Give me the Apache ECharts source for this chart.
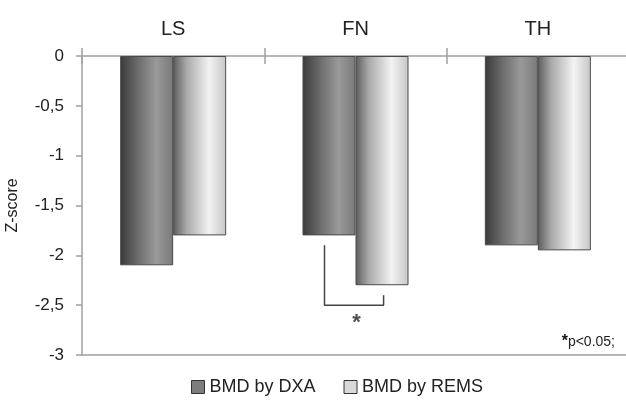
<!DOCTYPE html>
<html>
<head>
<meta charset="utf-8">
<script src="https://cdn.jsdelivr.net/npm/echarts@6/dist/echarts.min.js"></script>
<style>html,body{margin:0;padding:0;background:#fff}#c{width:626px;height:404px}</style>
</head>
<body>
<div id="c"></div>
<script>
var categories = ['LS', 'FN', 'TH'];
var seriesNames = ['BMD by DXA', 'BMD by REMS'];
var dxaValues = [-2.1, -1.8, -1.9];
var remsValues = [-1.8, -2.3, -1.95];
var yTicks = [0, -0.5, -1, -1.5, -2, -2.5, -3];
// significance bracket (category units on hidden value axis, z-score)
var bracketPoints = [[1.33, -1.9], [1.33, -2.5], [1.654, -2.5], [1.654, -2.4]];
var starPoint = [[1.505, -2.68]];

var font = 'Liberation Sans, Arial, sans-serif';
var chart = echarts.init(document.getElementById('c'), null, {renderer: 'canvas'});

function grad(stops) {
  return new echarts.graphic.LinearGradient(0, 0, 1, 0, stops.map(function (s) { return {offset: s[0], color: s[1]}; }));
}

chart.setOption({
  animation: false,
  backgroundColor: '#fff',
  grid: {left: 82, right: -3, top: 56, bottom: 49, containLabel: false, outerBoundsMode: 'none'},
  legend: {
    left: 186, bottom: 3,
    itemWidth: 13, itemHeight: 13, itemGap: 28,
    icon: 'rect',
    textStyle: {fontFamily: font, fontSize: 18, color: '#222'},
    data: [
      {name: seriesNames[0], itemStyle: {color: '#7d7d7d', borderColor: '#333', borderWidth: 1}},
      {name: seriesNames[1], itemStyle: {color: '#d9d9d9', borderColor: '#333', borderWidth: 1}}
    ]
  },
  xAxis: [
    {
      type: 'category', position: 'top', data: categories,
      axisLine: {show: true, lineStyle: {color: '#a0a0a0', width: 1.5}},
      axisTick: {show: true, alignWithLabel: false, interval: 0, length: 8, lineStyle: {color: '#a0a0a0', width: 1.5}},
      axisLabel: {fontFamily: font, fontSize: 20, color: '#222', margin: 17},
      splitLine: {show: false}
    },
    {
      type: 'category', position: 'top', data: categories,
      axisLine: {show: false},
      axisTick: {show: true, inside: true, alignWithLabel: false, interval: 0, length: 8, lineStyle: {color: '#a0a0a0', width: 1.5}},
      axisLabel: {show: false},
      splitLine: {show: false}
    },
    {
      type: 'value', position: 'bottom', min: 0, max: 3,
      axisLine: {show: true, onZero: false, lineStyle: {color: '#a0a0a0', width: 1.5}},
      axisTick: {show: false}, axisLabel: {show: false}, splitLine: {show: false}
    }
  ],
  yAxis: {
    type: 'value', min: -3, max: 0, interval: 0.5,
    name: 'Z-score', nameLocation: 'middle', nameRotate: 90, nameGap: 61,
    nameTextStyle: {fontFamily: font, fontSize: 16, color: '#222'},
    axisLine: {show: true, lineStyle: {color: '#a0a0a0', width: 1.5}},
    axisTick: {show: true, length: 6, lineStyle: {color: '#a0a0a0', width: 1.5}},
    axisLabel: {
      fontFamily: font, fontSize: 17, color: '#222', margin: 18,
      formatter: function (v) { return String(v).replace('.', ','); }
    },
    splitLine: {show: false}
  },
  series: [
    {
      name: seriesNames[0], type: 'bar', xAxisIndex: 0, data: dxaValues,
      barWidth: 53, barGap: '0%',
      itemStyle: {
        color: grad([[0, '#3a3a3a'], [0.35, '#6e6e6e'], [0.68, '#999'], [1, '#7a7a7a']]),
        borderColor: '#4a4a4a', borderWidth: 1
      }
    },
    {
      name: seriesNames[1], type: 'bar', xAxisIndex: 0, data: remsValues,
      barWidth: 53, barGap: '0%',
      itemStyle: {
        color: grad([[0, '#5c5c5c'], [0.25, '#a9a9a9'], [0.68, '#f3f3f3'], [1, '#c6c6c6']]),
        borderColor: '#4a4a4a', borderWidth: 1
      }
    },
    {
      name: 'bracket', type: 'line', xAxisIndex: 2, data: bracketPoints,
      symbol: 'none', lineStyle: {color: '#444', width: 1.5}, silent: true
    },
    {
      name: 'star', type: 'scatter', xAxisIndex: 2, data: starPoint,
      symbolSize: 1, itemStyle: {color: 'rgba(0,0,0,0)'},
      label: {show: true, position: 'inside', formatter: '*', fontFamily: font, fontSize: 22, fontWeight: 'bold', color: '#222'}
    }
  ],
  graphic: [
    {
      type: 'text', right: 11, top: 334,
      style: {
        text: '{b|*}p<0.05;',
        rich: {b: {fontFamily: font, fontSize: 16, fontWeight: 'bold', fill: '#111'}},
        fontFamily: font, fontSize: 14, fill: '#222'
      }
    }
  ]
});
</script>
</body>
</html>
